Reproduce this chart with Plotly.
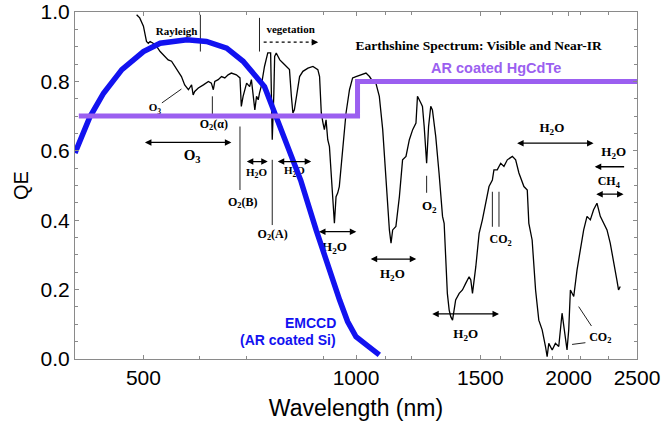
import math
import plotly.graph_objects as go

# ---------------- data ----------------
spec_lam = [489, 494, 500, 505, 508, 511, 516, 522, 528, 536, 542, 548, 554, 560, 566, 572, 579, 585, 588, 591,
            598, 608, 618, 624, 628, 631, 638, 645, 652, 659, 666, 677, 685, 688, 692, 700, 707, 711, 715, 719,
            723, 727, 730, 734, 742, 750, 757, 759, 761, 765, 767, 771, 780, 788, 797, 805, 810, 814, 818, 823,
            832, 841, 855, 869, 883, 888, 893, 898, 902, 907, 912, 917, 922, 927, 932, 937, 942, 947, 958, 968,
            979, 989, 1000, 1017, 1033, 1045, 1056, 1067, 1079, 1091, 1103, 1115, 1121, 1127, 1139, 1152, 1164,
            1177, 1190, 1203, 1216, 1222, 1236, 1242, 1249, 1259, 1267, 1276, 1283, 1297, 1311, 1326, 1333, 1340,
            1347, 1355, 1362, 1370, 1384, 1400, 1415, 1430, 1446, 1454, 1462, 1478, 1494, 1510, 1526, 1543, 1560,
            1568, 1585, 1603, 1620, 1638, 1665, 1683, 1701, 1729, 1748, 1757, 1776, 1796, 1815, 1835, 1855, 1865,
            1875, 1896, 1916, 1937, 1958, 1980, 1990, 2001, 2012, 2034, 2056, 2078, 2101, 2124, 2147, 2170, 2194,
            2218, 2242, 2267, 2291, 2316, 2329, 2341, 2354, 2367]
spec_qe = [0.992, 0.983, 0.959, 0.915, 0.910, 0.915, 0.910, 0.901, 0.886, 0.872, 0.862, 0.858, 0.843, 0.829, 0.814,
           0.790, 0.776, 0.790, 0.761, 0.771, 0.781, 0.790, 0.800, 0.795, 0.776, 0.800, 0.805, 0.814, 0.810, 0.819,
           0.824, 0.819, 0.810, 0.728, 0.757, 0.795, 0.785, 0.805, 0.766, 0.718, 0.757, 0.747, 0.766, 0.785, 0.843,
           0.882, 0.882, 0.766, 0.632, 0.766, 0.872, 0.882, 0.862, 0.853, 0.843, 0.834, 0.757, 0.709, 0.718, 0.757,
           0.814, 0.829, 0.838, 0.843, 0.834, 0.814, 0.709, 0.680, 0.661, 0.689, 0.632, 0.612, 0.545, 0.468, 0.391,
           0.468, 0.478, 0.497, 0.612, 0.709, 0.776, 0.810, 0.814, 0.819, 0.824, 0.814, 0.800, 0.795, 0.757, 0.661,
           0.516, 0.372, 0.334, 0.372, 0.382, 0.468, 0.574, 0.584, 0.632, 0.661, 0.680, 0.757, 0.737, 0.728, 0.670,
           0.564, 0.670, 0.728, 0.718, 0.641, 0.536, 0.411, 0.391, 0.286, 0.189, 0.141, 0.122, 0.112, 0.170, 0.189,
           0.199, 0.218, 0.237, 0.228, 0.189, 0.266, 0.362, 0.401, 0.449, 0.497, 0.516, 0.545, 0.545, 0.564, 0.555,
           0.574, 0.584, 0.574, 0.536, 0.497, 0.487, 0.391, 0.343, 0.199, 0.112, 0.084, 0.036, 0.007, 0.045, 0.026,
           0.045, 0.036, 0.132, 0.064, 0.026, 0.084, 0.199, 0.180, 0.257, 0.314, 0.372, 0.411, 0.401, 0.430, 0.449,
           0.411, 0.391, 0.372, 0.334, 0.286, 0.257, 0.228, 0.199, 0.209]

emccd_lam = [400, 420, 439, 466, 500, 528, 576, 614, 656, 692, 742, 795, 835, 878, 922, 948, 973, 1000, 1040, 1079]
emccd_qe = [0.594, 0.698, 0.766, 0.834, 0.886, 0.910, 0.920, 0.915, 0.896, 0.858, 0.785, 0.632, 0.515, 0.372,
            0.237, 0.170, 0.108, 0.064, 0.037, 0.012]

hgcdte_lam = [405, 1005, 1005, 2500]
hgcdte_qe = [0.70, 0.70, 0.80, 0.80]

x_ticks = [500, 1000, 1500, 2000, 2500]
x_ticktext = ["500", "1000", "1500", "2000", "2500"]
x_minor = [600, 700, 900, 1100, 1200, 1600, 1900, 2080, 2280]
y_ticks = [0.0, 0.2, 0.4, 0.6, 0.8, 1.0]
y_ticktext = ["0.0", "0.2", "0.4", "0.6", "0.8", "1.0"]
y_minor = [0.05, 0.1, 0.15, 0.25, 0.3, 0.35, 0.45, 0.5, 0.55, 0.65, 0.7, 0.75, 0.85, 0.9, 0.95]

# spectral feature labels (wavelength, QE position)
lab_text = ["Rayleigh", "vegetation", "O<sub>3</sub>", "O<sub>2</sub>(α)", "O<sub>3</sub>", "O<sub>2</sub>(B)",
            "H<sub>2</sub>O", "O<sub>2</sub>(A)", "H<sub>2</sub>O", "H<sub>2</sub>O", "H<sub>2</sub>O",
            "O<sub>2</sub>", "CO<sub>2</sub>", "H<sub>2</sub>O", "H<sub>2</sub>O", "H<sub>2</sub>O",
            "CH<sub>4</sub>", "CO<sub>2</sub>", "Earthshine Spectrum: Visible and Near-IR"]
lab_lam = [557, 808, 519, 629, 586, 691, 723, 762, 818, 932, 1126, 1270, 1603, 1430, 1894, 2317, 2280, 2218, 1492]
lab_qe = [0.942, 0.947, 0.722, 0.675, 0.585, 0.451, 0.536, 0.358, 0.540, 0.320, 0.242, 0.438, 0.343, 0.069,
          0.663, 0.594, 0.509, 0.061, 0.901]
lab_size = [11, 11, 11, 12, 15, 12, 11, 12, 11, 13, 13, 13, 12, 13, 13, 13, 12, 12, 13.5]

# marker lines (segment ends: lam0, lam1, qe0, qe1)
mark_lam0 = [602, 730, 531, 626, 685, 761, 1259, 1560, 1594, 2067, 2023]
mark_lam1 = [602, 730, 566, 626, 685, 761, 1259, 1560, 1594, 2155, 2113]
mark_qe0 = [0.992, 0.983, 0.738, 0.757, 0.670, 0.574, 0.528, 0.482, 0.482, 0.151, 0.042]
mark_qe1 = [0.886, 0.886, 0.778, 0.704, 0.487, 0.386, 0.479, 0.381, 0.381, 0.095, 0.047]

# band arrows (from, to, QE, double-headed?)
arr_from = [500, 697, 771, 882, 1044, 1276, 1683, 2409, 2178]
arr_to = [666, 750, 864, 1001, 1217, 1594, 2170, 2178, 2393]
arr_qe = [0.624, 0.569, 0.569, 0.367, 0.288, 0.130, 0.622, 0.554, 0.475]
arr_both = [True, True, True, True, True, True, True, False, True]

veg_lam = [740, 875]
veg_qe = [0.913, 0.913]

BLUE = "rgb(18,18,240)"
PURPLE = "rgb(155,95,240)"
SERIF = "Liberation Serif"
SANS = "Liberation Sans"

fig = go.Figure()

fig.add_trace(go.Scatter(x=spec_lam, y=spec_qe, mode="lines",
                         line=dict(color="black", width=1.3), hoverinfo="skip"))

seg_x, seg_y = [], []
for a, b, c, d in zip(mark_lam0, mark_lam1, mark_qe0, mark_qe1):
    seg_x += [a, b, None]
    seg_y += [c, d, None]
fig.add_trace(go.Scatter(x=seg_x, y=seg_y, mode="lines", line=dict(color="#222", width=1),
                         hoverinfo="skip"))

fig.add_trace(go.Scatter(x=veg_lam, y=veg_qe, mode="lines", line=dict(color="black", width=1.3, dash="dot"),
                         hoverinfo="skip"))

fig.add_trace(go.Scatter(x=lab_lam, y=lab_qe, mode="text",
                         text=["<b>" + t + "</b>" for t in lab_text],
                         textfont=dict(family=SERIF, size=lab_size, color="black"),
                         textposition="middle center", hoverinfo="skip"))

fig.add_trace(go.Scatter(x=emccd_lam, y=emccd_qe, mode="lines", line=dict(color=BLUE, width=5.5),
                         hoverinfo="skip"))
fig.add_trace(go.Scatter(x=hgcdte_lam, y=hgcdte_qe, mode="lines", line=dict(color=PURPLE, width=5),
                         hoverinfo="skip"))

annotations = []
for a, b, q, both in zip(arr_from, arr_to, arr_qe, arr_both):
    annotations.append(dict(x=math.log10(b), y=q, ax=math.log10(a), ay=q, xref="x", yref="y",
                            axref="x", ayref="y", text="", showarrow=True, arrowhead=2, arrowsize=1,
                            arrowwidth=1.3, arrowcolor="black",
                            arrowside="end+start" if both else "end"))
# vegetation arrow head
annotations.append(dict(x=math.log10(884), y=veg_qe[1], ax=math.log10(872), ay=veg_qe[1],
                        xref="x", yref="y", axref="x", ayref="y", text="", showarrow=True,
                        arrowhead=2, arrowsize=1, arrowwidth=1.3, arrowcolor="black"))

annotations += [
    dict(x=math.log10(944), y=0.105, xref="x", yref="y", text="<b>EMCCD</b>", showarrow=False,
         xanchor="right", font=dict(family=SANS, size=14, color=BLUE)),
    dict(x=math.log10(944), y=0.055, xref="x", yref="y", text="<b>(AR coated Si)</b>", showarrow=False,
         xanchor="right", font=dict(family=SANS, size=14, color=BLUE)),
    dict(x=math.log10(1581), y=0.838, xref="x", yref="y", text="<b>AR coated HgCdTe</b>", showarrow=False,
         xanchor="center", font=dict(family=SANS, size=14.5, color=PURPLE)),
]

axis_common = dict(showline=True, linecolor="#8a8a8a", linewidth=1, mirror="ticks", ticks="inside",
                   ticklen=4, tickcolor="#8a8a8a", showgrid=False, zeroline=False, automargin=False,
                   ticklabeloverflow="allow",
                   tickfont=dict(family=SANS, size=21, color="black"))

fig.update_layout(
    width=664, height=429,
    margin=dict(l=75, r=27, t=12, b=70),
    plot_bgcolor="white", paper_bgcolor="white",
    showlegend=False,
    annotations=annotations,
    xaxis=dict(type="log", range=[math.log10(400), math.log10(2500)],
               tickvals=x_ticks, ticktext=x_ticktext,
               minor=dict(tickvals=x_minor, ticks="inside", ticklen=3, tickcolor="#8a8a8a", showgrid=False),
               title=dict(text="Wavelength (nm)", font=dict(family=SANS, size=23, color="black"), standoff=11),
               ticklabelstandoff=0,
               **axis_common),
    yaxis=dict(range=[0, 1], tickvals=y_ticks, ticktext=y_ticktext,
               minor=dict(tickvals=y_minor, ticks="inside", ticklen=3, tickcolor="#8a8a8a", showgrid=False),
               title=dict(text="QE", font=dict(family=SANS, size=20, color="black"), standoff=6),
               ticklabelstandoff=0,
               **axis_common),
)

fig.write_html("out.html", config={"displayModeBar": False},
               post_script="document.body.style.margin='0';")
